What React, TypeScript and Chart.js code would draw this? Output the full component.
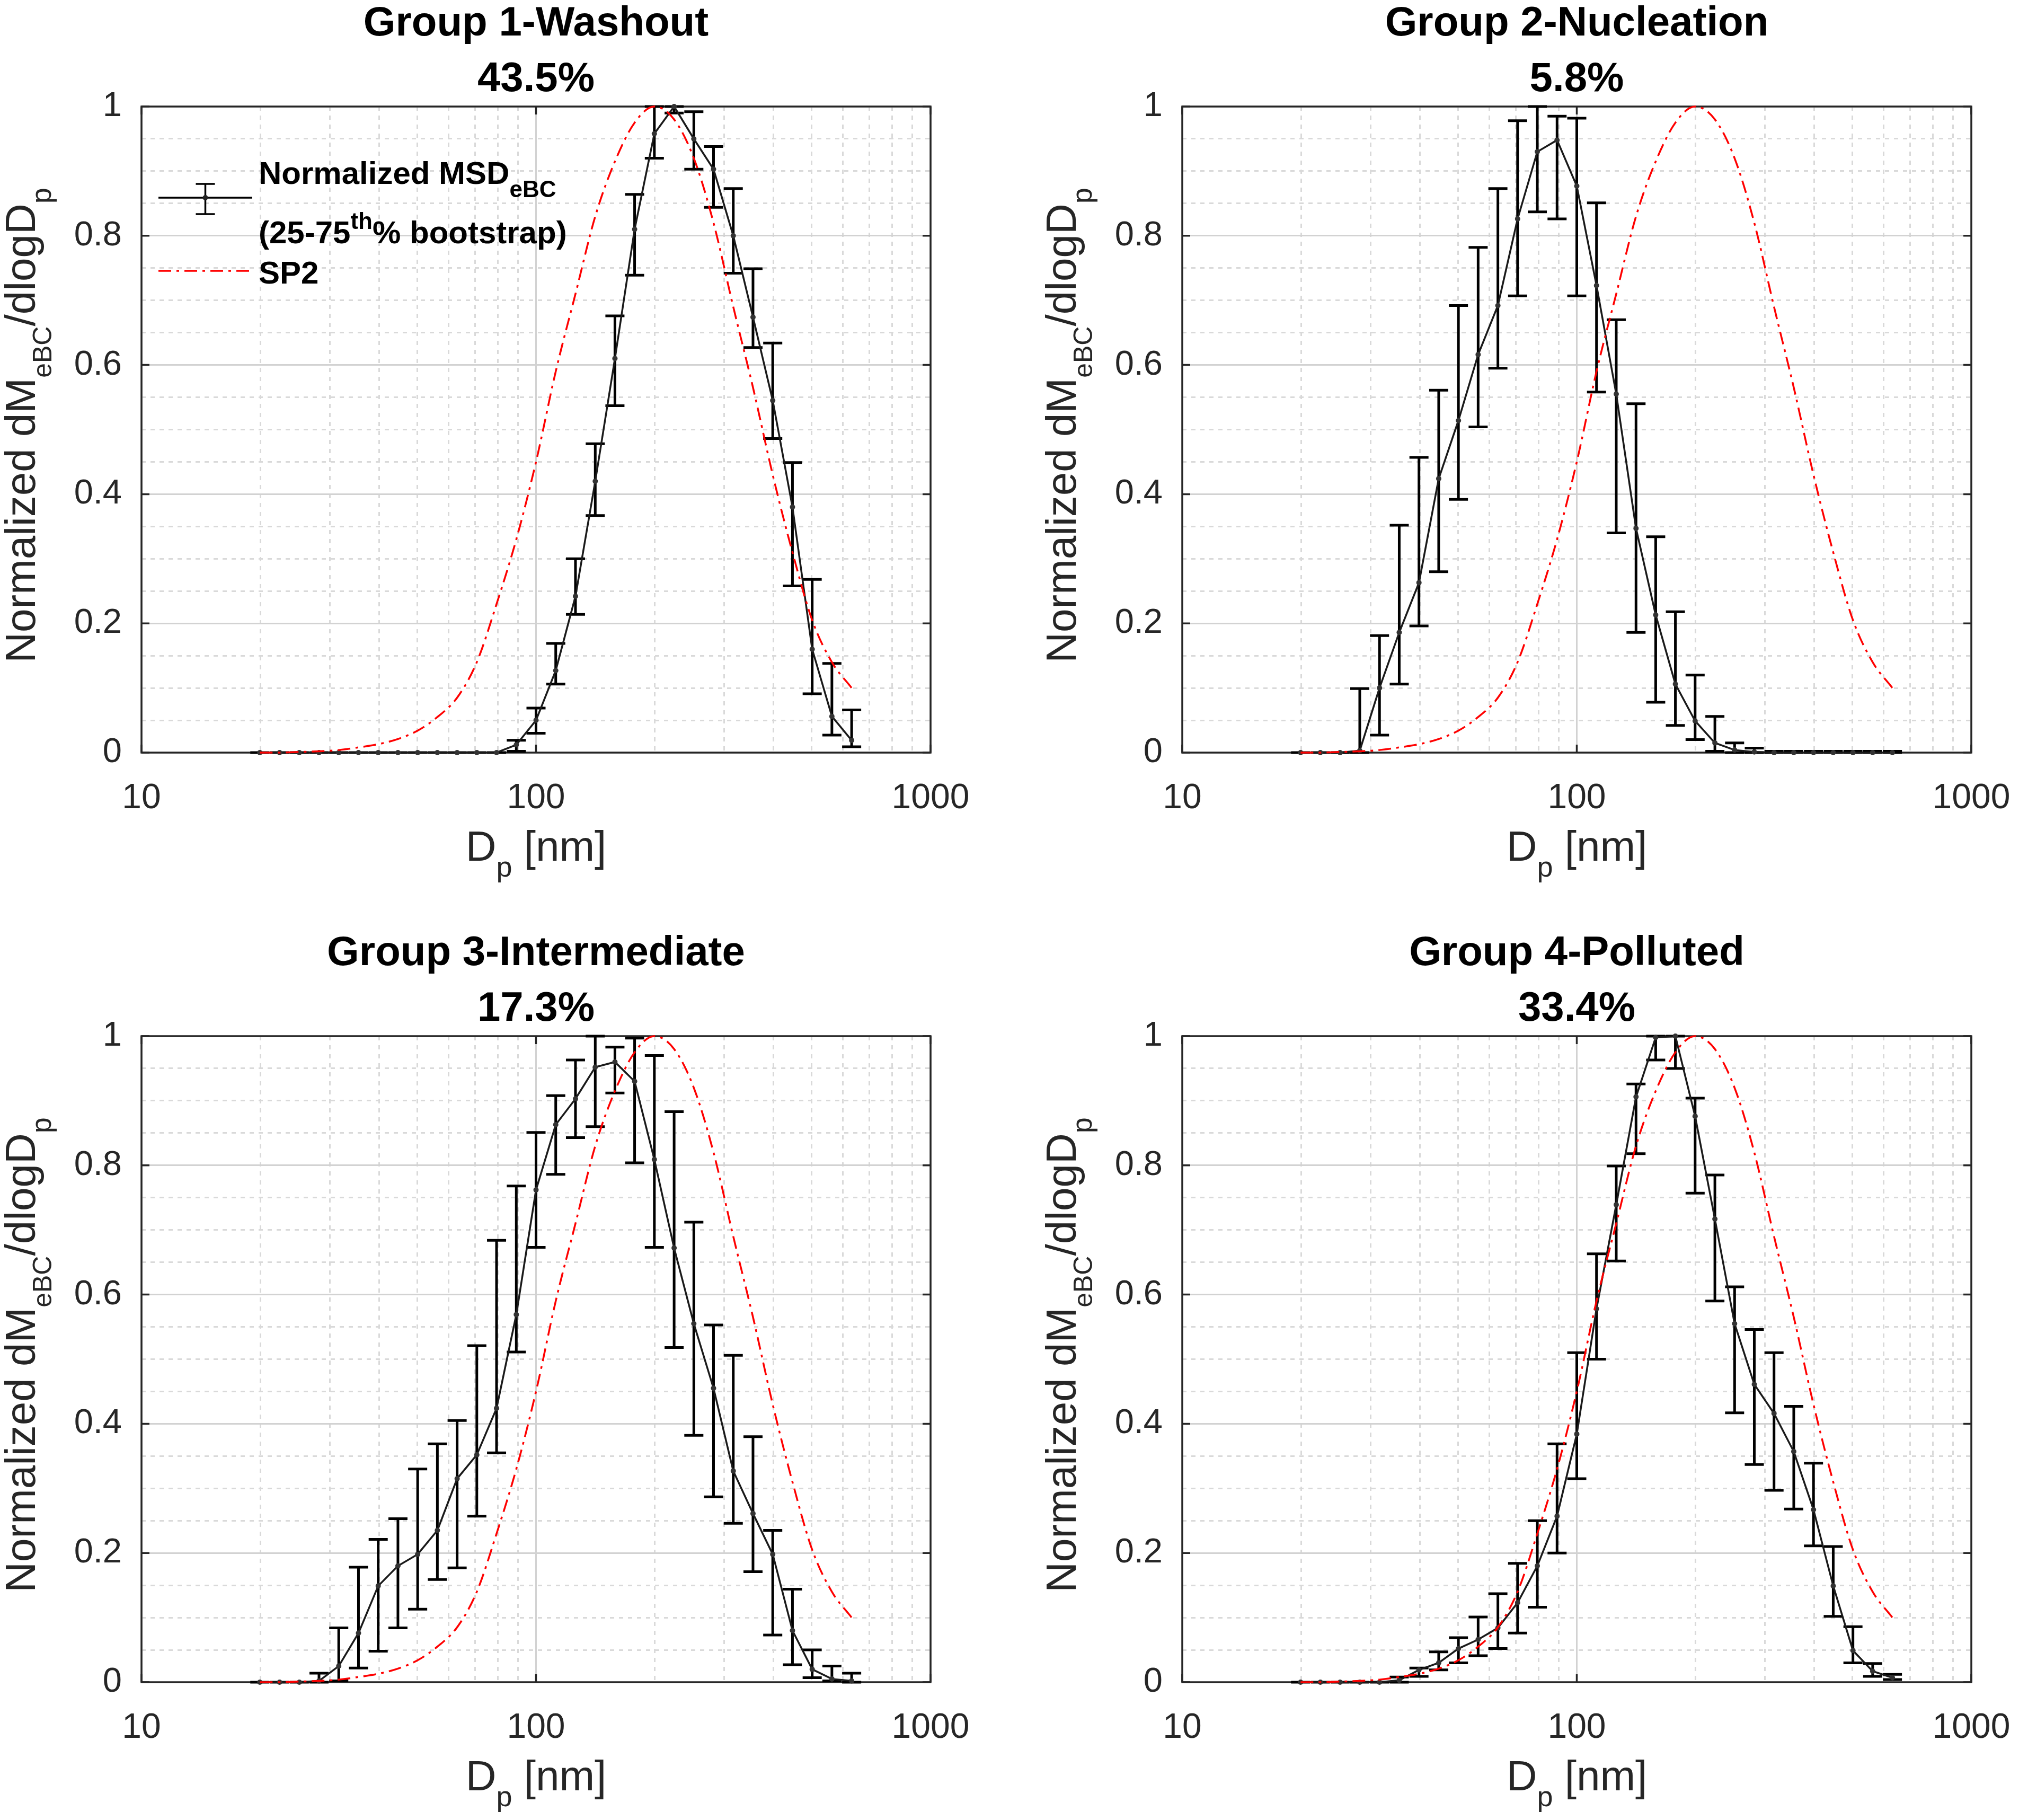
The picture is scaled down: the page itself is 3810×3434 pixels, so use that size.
import { useEffect, useRef } from 'react';
import { Chart, registerables } from 'chart.js';
import type { Plugin } from 'chart.js';

Chart.register(...registerables);

// bin diameters [nm], 20 bins per decade
const diameters = [
  19.95, 22.39, 25.12, 28.18, 31.62, 35.48, 39.81, 44.67, 50.12, 56.23, 63.1,
  70.79, 79.43, 89.13, 100.0, 112.2, 125.9, 141.3, 158.5, 177.8, 199.5, 223.9,
  251.2, 281.8, 316.2, 354.8, 398.1, 446.7, 501.2, 562.3, 631.0,
];

// SP2 reference distribution (same in every panel)
const sp2 = [
  0, 0, 0.001, 0.002, 0.004, 0.008, 0.013, 0.021, 0.034, 0.055, 0.085, 0.14,
  0.23, 0.33, 0.45, 0.59, 0.71, 0.83, 0.915, 0.975, 1.0, 0.98, 0.92, 0.82,
  0.69, 0.565, 0.43, 0.31, 0.205, 0.14, 0.1,
];

// Group 1 - Washout
const washout = [
  0, 0, 0, 0, 0, 0, 0, 0, 0, 0, 0, 0, 0, 0.012, 0.05, 0.127, 0.242, 0.42, 0.61,
  0.81, 0.958, 1.0, 0.95, 0.903, 0.8, 0.674, 0.545, 0.38, 0.16, 0.056, 0.019,
];
const washoutLow = [
  0, 0, 0, 0, 0, 0, 0, 0, 0, 0, 0, 0, 0, 0.002, 0.03, 0.106, 0.214, 0.367,
  0.537, 0.739, 0.92, 0.99, 0.903, 0.844, 0.742, 0.627, 0.486, 0.258, 0.091,
  0.027, 0.009,
];
const washoutHigh = [
  0, 0, 0, 0, 0, 0, 0, 0, 0, 0, 0, 0, 0, 0.019, 0.069, 0.169, 0.3, 0.478,
  0.676, 0.864, 1.0, 1.0, 0.992, 0.938, 0.873, 0.749, 0.634, 0.449, 0.268,
  0.138, 0.066,
];

// Group 2 - Nucleation
const nucleation = [
  0, 0, 0, 0.003, 0.1, 0.186, 0.263, 0.424, 0.514, 0.616, 0.692, 0.826, 0.93,
  0.948, 0.877, 0.723, 0.555, 0.347, 0.213, 0.106, 0.049, 0.015, 0.004, 0.001,
  0, 0, 0, 0, 0, 0, 0,
];
const nucleationLow = [
  0, 0, 0, 0, 0.027, 0.106, 0.196, 0.28, 0.392, 0.504, 0.595, 0.707, 0.837,
  0.826, 0.707, 0.558, 0.34, 0.186, 0.078, 0.042, 0.02, 0.002, 0, 0, 0, 0, 0,
  0, 0, 0, 0,
];
const nucleationHigh = [
  0, 0, 0, 0.099, 0.181, 0.352, 0.457, 0.561, 0.692, 0.782, 0.873, 0.978, 1.0,
  0.985, 0.982, 0.851, 0.67, 0.54, 0.334, 0.218, 0.12, 0.056, 0.015, 0.007,
  0.002, 0.002, 0.002, 0.002, 0.002, 0.002, 0.002,
];

// Group 3 - Intermediate
const intermediate = [
  0, 0, 0, 0.002, 0.025, 0.076, 0.149, 0.18, 0.198, 0.235, 0.315, 0.352,
  0.424, 0.569, 0.762, 0.863, 0.903, 0.952, 0.96, 0.93, 0.809, 0.672, 0.555,
  0.455, 0.327, 0.261, 0.198, 0.08, 0.02, 0.005, 0.002,
];
const intermediateLow = [
  0, 0, 0, 0, 0.002, 0.022, 0.048, 0.084, 0.113, 0.159, 0.177, 0.257, 0.355,
  0.511, 0.673, 0.786, 0.843, 0.86, 0.912, 0.804, 0.673, 0.518, 0.382, 0.287,
  0.246, 0.171, 0.073, 0.027, 0.007, 0.002, 0,
];
const intermediateHigh = [
  0, 0, 0, 0.014, 0.084, 0.178, 0.221, 0.253, 0.33, 0.369, 0.405, 0.521,
  0.684, 0.768, 0.851, 0.908, 0.963, 1.0, 0.983, 0.997, 0.97, 0.883, 0.712,
  0.553, 0.506, 0.38, 0.235, 0.144, 0.05, 0.025, 0.014,
];

// Group 4 - Polluted
const polluted = [
  0, 0, 0, 0, 0, 0.003, 0.019, 0.03, 0.052, 0.066, 0.084, 0.123, 0.18, 0.257,
  0.384, 0.578, 0.739, 0.906, 0.998, 1.0, 0.876, 0.717, 0.555, 0.461, 0.416,
  0.357, 0.267, 0.149, 0.049, 0.017, 0.007,
];
const pollutedLow = [
  0, 0, 0, 0, 0, 0, 0.009, 0.019, 0.03, 0.041, 0.052, 0.076, 0.116, 0.2,
  0.315, 0.5, 0.652, 0.818, 0.963, 0.95, 0.757, 0.59, 0.417, 0.337, 0.297,
  0.268, 0.211, 0.102, 0.03, 0.009, 0.004,
];
const pollutedHigh = [
  0, 0, 0, 0, 0, 0.008, 0.022, 0.047, 0.069, 0.101, 0.137, 0.184, 0.25, 0.369,
  0.51, 0.663, 0.799, 0.926, 1.0, 1.0, 0.904, 0.785, 0.612, 0.546, 0.51, 0.427,
  0.339, 0.21, 0.086, 0.029, 0.012,
];

// axes
const xGrid = [10, 20, 30, 40, 50, 60, 70, 80, 90, 100, 200, 300, 400, 500, 600, 700, 800, 900, 1000];
const xLabels = [10, 100, 1000];
const yGrid = [
  0, 0.05, 0.1, 0.15, 0.2, 0.25, 0.3, 0.35, 0.4, 0.45, 0.5, 0.55, 0.6, 0.65,
  0.7, 0.75, 0.8, 0.85, 0.9, 0.95, 1,
];
const yLabels = [0, 0.2, 0.4, 0.6, 0.8, 1];

const FONT = '"Liberation Sans", Arial, Helvetica, sans-serif';
const W = 1846;
const H = 1680;

type Run = { text: string; size: number; shift: number; bold?: boolean };

function runsWidth(c: CanvasRenderingContext2D, runs: Run[]) {
  let w = 0;
  for (const r of runs) {
    c.font = `${r.bold ? 'bold ' : ''}${r.size}px ${FONT}`;
    w += c.measureText(r.text).width;
  }
  return w;
}

function drawRuns(c: CanvasRenderingContext2D, runs: Run[], x: number, y: number, center: boolean) {
  let cx = center ? x - runsWidth(c, runs) / 2 : x;
  c.textAlign = 'left';
  c.textBaseline = 'alphabetic';
  for (const r of runs) {
    c.font = `${r.bold ? 'bold ' : ''}${r.size}px ${FONT}`;
    c.fillText(r.text, cx, y + r.shift);
    cx += c.measureText(r.text).width;
  }
}

interface PanelProps {
  title: string;
  share: string;
  values: number[];
  low: number[];
  high: number[];
  showLegend: boolean;
  left: number;
  top: number;
}

function Panel({ title, share, values, low, high, showLegend, left, top }: PanelProps) {
  const chartRef = useRef<HTMLCanvasElement>(null);

  useEffect(() => {
    const canvas = chartRef.current;
    if (!canvas) return;
    const ctx = canvas.getContext('2d');
    if (!ctx) return;

    const decor: Plugin<'line'> = {
      id: 'decor',
      beforeDatasetsDraw(chart) {
        const c = chart.ctx;
        const a = chart.chartArea;
        const xs = chart.scales.x;
        const ys = chart.scales.y;
        c.save();
        // axes box
        c.strokeStyle = '#262626';
        c.lineWidth = 3.5;
        c.strokeRect(a.left, a.top, a.right - a.left, a.bottom - a.top);
        // inner tick marks
        c.beginPath();
        for (const v of yLabels) {
          const py = ys.getPixelForValue(v);
          c.moveTo(a.left, py); c.lineTo(a.left + 15, py);
          c.moveTo(a.right, py); c.lineTo(a.right - 15, py);
        }
        for (const v of xLabels) {
          const px = xs.getPixelForValue(v);
          c.moveTo(px, a.bottom); c.lineTo(px, a.bottom - 15);
          c.moveTo(px, a.top); c.lineTo(px, a.top + 15);
        }
        c.stroke();
        // error bars (25-75th percentile)
        c.strokeStyle = '#000';
        c.lineWidth = 5;
        diameters.forEach((d, i) => {
          const px = xs.getPixelForValue(d);
          const y0 = ys.getPixelForValue(low[i]);
          const y1 = ys.getPixelForValue(high[i]);
          c.beginPath();
          c.moveTo(px, y0); c.lineTo(px, y1);
          c.moveTo(px - 18, y0); c.lineTo(px + 18, y0);
          c.moveTo(px - 18, y1); c.lineTo(px + 18, y1);
          c.stroke();
        });
        c.restore();
      },
      afterDraw(chart) {
        const c = chart.ctx;
        const a = chart.chartArea;
        const cx = (a.left + a.right) / 2;
        c.save();
        c.fillStyle = '#000';
        // titles
        drawRuns(c, [{ text: title, size: 78, shift: 0, bold: true }], cx, 67, true);
        drawRuns(c, [{ text: share, size: 78, shift: 0, bold: true }], cx, 172, true);
        // x axis title
        c.fillStyle = '#262626';
        drawRuns(
          c,
          [
            { text: 'D', size: 80, shift: 0 },
            { text: 'p', size: 54, shift: 30 },
            { text: ' [nm]', size: 80, shift: 0 },
          ],
          cx,
          a.bottom + 204,
          true,
        );
        // y axis title
        c.save();
        c.translate(66, (a.top + a.bottom) / 2 - 8);
        c.rotate(-Math.PI / 2);
        drawRuns(
          c,
          [
            { text: 'Normalized dM', size: 80, shift: 0 },
            { text: 'eBC', size: 50, shift: 31 },
            { text: '/dlogD', size: 80, shift: 0 },
            { text: 'p', size: 54, shift: 30 },
          ],
          0,
          0,
          true,
        );
        c.restore();

        if (showLegend) {
          const lx0 = a.left + 32;
          const lx1 = a.left + 209;
          const mid = (lx0 + lx1) / 2;
          // error bar symbol
          c.strokeStyle = '#000';
          c.lineWidth = 3.5;
          c.beginPath();
          c.moveTo(lx0, 373); c.lineTo(lx1, 373);
          c.moveTo(mid, 347); c.lineTo(mid, 404);
          c.moveTo(mid - 18, 347); c.lineTo(mid + 18, 347);
          c.moveTo(mid - 18, 404); c.lineTo(mid + 18, 404);
          c.stroke();
          c.fillStyle = '#222';
          c.beginPath();
          c.arc(mid, 373, 5, 0, Math.PI * 2);
          c.fill();
          // SP2 symbol
          c.strokeStyle = '#ff0000';
          c.lineWidth = 3.5;
          c.setLineDash([24, 10, 5, 10]);
          c.beginPath();
          c.moveTo(lx0, 511); c.lineTo(lx1, 511);
          c.stroke();
          c.setLineDash([]);
          // labels
          c.fillStyle = '#000';
          const tx = a.left + 221;
          drawRuns(
            c,
            [
              { text: 'Normalized MSD', size: 60, shift: 0, bold: true },
              { text: 'eBC', size: 44, shift: 25, bold: true },
            ],
            tx,
            347,
            false,
          );
          drawRuns(
            c,
            [
              { text: '(25-75', size: 60, shift: 0, bold: true },
              { text: 'th', size: 44, shift: -27, bold: true },
              { text: '% bootstrap)', size: 60, shift: 0, bold: true },
            ],
            tx,
            459,
            false,
          );
          drawRuns(c, [{ text: 'SP2', size: 60, shift: 0, bold: true }], tx, 535, false);
        }
        c.restore();
      },
    };

    const isMajorX = (v: number) => xLabels.includes(v);
    const isMajorY = (v: number) => yLabels.includes(v);

    const chart = new Chart(ctx, {
      type: 'line',
      data: {
        datasets: [
          {
            label: 'SP2',
            data: diameters.map((d, i) => ({ x: d, y: sp2[i] })),
            borderColor: '#ff0000',
            borderWidth: 3.5,
            borderDash: [24, 10, 5, 10],
            pointRadius: 0,
            cubicInterpolationMode: 'monotone',
            fill: false,
            clip: 12,
          },
          {
            label: 'Normalized MSD eBC',
            data: diameters.map((d, i) => ({ x: d, y: values[i] })),
            borderColor: '#1a1a1a',
            borderWidth: 3.5,
            pointRadius: 5,
            pointBackgroundColor: '#333',
            pointBorderColor: '#333',
            pointBorderWidth: 0,
            tension: 0,
            fill: false,
            clip: 12,
          },
        ],
      },
      options: {
        animation: false,
        responsive: false,
        events: [],
        layout: { padding: { top: 201, left: 0, right: 90, bottom: 0 } },
        plugins: {
          legend: { display: false },
          tooltip: { enabled: false },
          title: { display: false },
        },
        scales: {
          x: {
            type: 'logarithmic',
            min: 10,
            max: 1000,
            afterBuildTicks: (scale) => {
              scale.ticks = xGrid.map((v) => ({ value: v, major: isMajorX(v) }));
            },
            afterFit: (scale) => {
              scale.height = 260;
              scale.paddingLeft = 0;
              scale.paddingRight = 0;
            },
            ticks: {
              autoSkip: false,
              maxRotation: 0,
              padding: 47,
              color: '#262626',
              font: { family: FONT, size: 66 },
              callback: (v) => (isMajorX(Number(v)) ? String(v) : ''),
            },
            grid: {
              drawTicks: false,
              color: (c) => (isMajorX(c.tick.value) ? '#d2d2d2' : '#d9d9d9'),
              lineWidth: 3,
            },
            border: {
              display: false,
              dash: (c) => (isMajorX(c.tick.value) ? [] : [8, 9]),
            },
          },
          y: {
            type: 'linear',
            min: 0,
            max: 1,
            afterBuildTicks: (scale) => {
              scale.ticks = yGrid.map((v) => ({ value: v }));
            },
            afterFit: (scale) => {
              scale.width = 267;
              scale.paddingTop = 0;
              scale.paddingBottom = 0;
            },
            ticks: {
              autoSkip: false,
              padding: 37,
              color: '#262626',
              font: { family: FONT, size: 65 },
              callback: (v) => (isMajorY(Number(v)) ? String(v) : ''),
            },
            grid: {
              drawTicks: false,
              color: (c) => (isMajorY(c.tick.value) ? '#d2d2d2' : '#d9d9d9'),
              lineWidth: 3,
            },
            border: {
              display: false,
              dash: (c) => (isMajorY(c.tick.value) ? [] : [8, 9]),
            },
          },
        },
      },
      plugins: [decor],
    });

    return () => {
      chart.destroy();
    };
  }, [title, share, values, low, high, showLegend]);

  return (
    <canvas
      ref={chartRef}
      width={W}
      height={H}
      style={{ position: 'absolute', left, top, width: W, height: H }}
    />
  );
}

export default function App() {
  return (
    <div style={{ position: 'relative', width: 3810, height: 3434, background: '#fff', overflow: 'hidden' }}>
      <style>{'body{margin:0;background:#fff}'}</style>
      <Panel title="Group 1-Washout" share="43.5%" values={washout} low={washoutLow} high={washoutHigh} showLegend left={0} top={0} />
      <Panel title="Group 2-Nucleation" share="5.8%" values={nucleation} low={nucleationLow} high={nucleationHigh} showLegend={false} left={1964} top={0} />
      <Panel title="Group 3-Intermediate" share="17.3%" values={intermediate} low={intermediateLow} high={intermediateHigh} showLegend={false} left={0} top={1754} />
      <Panel title="Group 4-Polluted" share="33.4%" values={polluted} low={pollutedLow} high={pollutedHigh} showLegend={false} left={1964} top={1754} />
    </div>
  );
}
